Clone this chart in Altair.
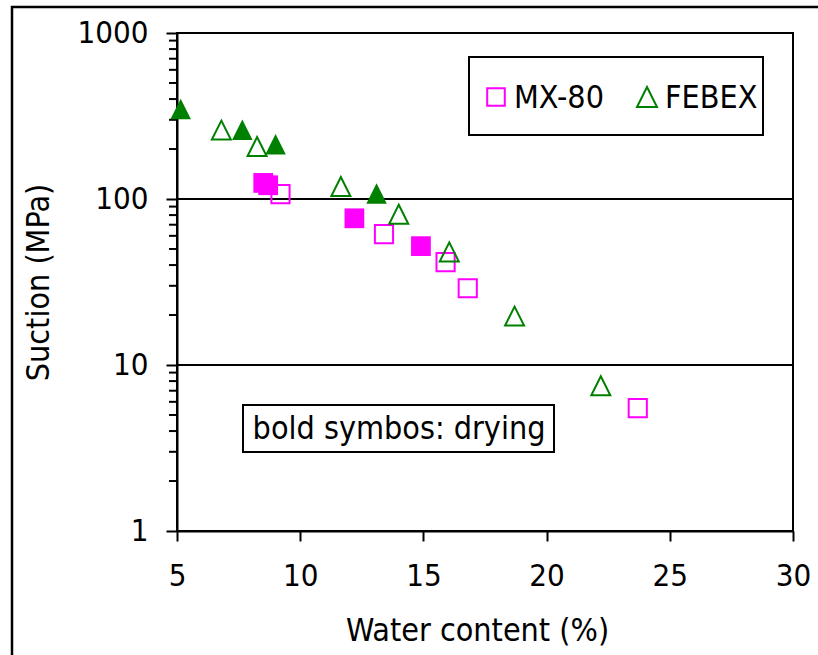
import altair as alt
import pandas as pd

# MX-80 bentonite: water content (%), suction (MPa), drying path flag
mx_water = [8.5, 8.7, 9.2, 12.2, 13.4, 14.9, 15.9, 16.8, 23.7]
mx_suction = [125, 121, 107, 76.5, 61.5, 52, 41.7, 29, 5.5]
mx_drying = [True, True, False, True, False, True, False, False, False]

# FEBEX bentonite
fx_water = [5.15, 6.8, 7.65, 8.25, 9.0, 11.65, 13.1, 14.0, 16.05, 18.7, 22.2]
fx_suction = [348, 260, 261, 207, 214, 119, 108, 81, 48, 19.7, 7.5]
fx_drying = [True, False, True, False, True, False, True, False, False, False, False]

materials = ["MX-80", "FEBEX"]
mat_colors = ["#FF00FF", "#008000"]
tri_path = "M0,-1L1,1L-1,1Z"
mat_shapes = ["square", tri_path]

# symbol area per material / path (wetting = open, drying = filled)
kinds = ["MX-80 wetting", "FEBEX wetting", "MX-80 drying", "FEBEX drying"]
kind_sizes = [330, 420, 380, 470]

x_ticks = [5, 10, 15, 20, 25, 30]
y_major = [1, 10, 100, 1000]
y_minor = [m * d for d in (1, 10, 100) for m in range(2, 10)]
y_grid = [10, 100]
note = "bold symbos: drying"

FONT = "DejaVu Sans Condensed, Liberation Sans"
FS_TICK = 31
FS_TEXT = 32

df = pd.concat([
    pd.DataFrame({"water": mx_water, "suction": mx_suction,
                  "material": "MX-80", "drying": mx_drying}),
    pd.DataFrame({"water": fx_water, "suction": fx_suction,
                  "material": "FEBEX", "drying": fx_drying}),
], ignore_index=True)

x_scale = alt.Scale(domain=[5, 30], nice=False, zero=False)
y_scale = alt.Scale(type="log", domain=[1, 1000], nice=False)


def points(drying):
    return alt.Chart(df).transform_filter(
        "datum.drying" if drying else "!datum.drying"
    ).transform_calculate(
        kind="datum.material + (datum.drying ? ' drying' : ' wetting')"
    ).mark_point(
        filled=drying, strokeWidth=2, opacity=1
    ).encode(
        x=alt.X("water:Q", scale=x_scale, title="Water content (%)",
                axis=alt.Axis(values=x_ticks, tickSize=10, labelPadding=20,
                              labelFlush=False, titlePadding=24, titleX=300,
                              grid=False)),
        y=alt.Y("suction:Q", scale=y_scale, title="Suction (MPa)",
                axis=alt.Axis(values=y_major, format="d", tickSize=11,
                              labelPadding=18, labelFlush=False,
                              labelOverlap=False, titlePadding=22, grid=False)),
        shape=alt.Shape("material:N",
                        scale=alt.Scale(domain=materials, range=mat_shapes),
                        legend=None),
        color=alt.Color("material:N",
                        scale=alt.Scale(domain=materials, range=mat_colors),
                        legend=None),
        size=alt.Size("kind:N",
                      scale=alt.Scale(domain=kinds, range=kind_sizes),
                      legend=None),
    )


open_pts = points(False)
filled_pts = points(True)

# horizontal grid lines at the decades
grid = alt.Chart(pd.DataFrame({"g": y_grid})).mark_rule(
    color="black", strokeWidth=2).encode(y=alt.Y("g:Q", scale=y_scale))

# minor log ticks on the suction axis
minor = alt.Chart(pd.DataFrame({"m": y_minor})).mark_rule(
    color="black", strokeWidth=2).encode(
    y=alt.Y("m:Q", scale=y_scale), x=alt.value(-8), x2=alt.value(0))

one = pd.DataFrame({"t": [0]})


def boxed(x, x2, y, y2, width=2):
    return alt.Chart(one).mark_rect(
        fill="white", stroke="black", strokeWidth=width).encode(
        x=alt.value(x), x2=alt.value(x2), y=alt.value(y), y2=alt.value(y2))


# legend: open symbols with their material names
legend_layers = [boxed(292, 586, 24, 102)]
for name, color, shape, size, sx in zip(materials, mat_colors, mat_shapes,
                                        [310, 400], [319, 470]):
    legend_layers.append(alt.Chart(one).mark_point(
        filled=False, size=size, strokeWidth=2, opacity=1,
        color=color, shape=shape).encode(x=alt.value(sx), y=alt.value(64)))
    legend_layers.append(alt.Chart(one).mark_text(
        text=name, font=FONT, fontSize=FS_TEXT, color="black", align="left",
        baseline="middle").encode(x=alt.value(sx + 18), y=alt.value(65)))

note_box = boxed(66, 377, 372, 419)
note_text = alt.Chart(one).mark_text(
    text=note, font=FONT, fontSize=FS_TEXT, color="black", align="center",
    baseline="middle").encode(x=alt.value(222), y=alt.value(396))

frame = alt.Chart(one).mark_rect(
    fillOpacity=0, stroke="black", strokeWidth=2.5).encode(
    x=alt.value(-165), x2=alt.value(700), y=alt.value(-26), y2=alt.value(700))

chart = alt.layer(
    frame, grid, minor, note_box, note_text, *legend_layers,
    open_pts, filled_pts
).properties(
    width=616, height=498,
    autosize=alt.AutoSizeParams(type="none"),
    padding={"left": 177, "top": 33, "right": 25, "bottom": 124},
    background="white",
).configure_view(
    stroke="black", strokeWidth=2
).configure_axis(
    domainColor="black", domainWidth=2, tickColor="black", tickWidth=2,
    labelColor="black", titleColor="black", labelFont=FONT, titleFont=FONT,
    labelFontSize=FS_TICK, titleFontSize=FS_TEXT, titleFontWeight="normal",
)

chart.save("out.html", embed_options={"renderer": "svg", "actions": False})
